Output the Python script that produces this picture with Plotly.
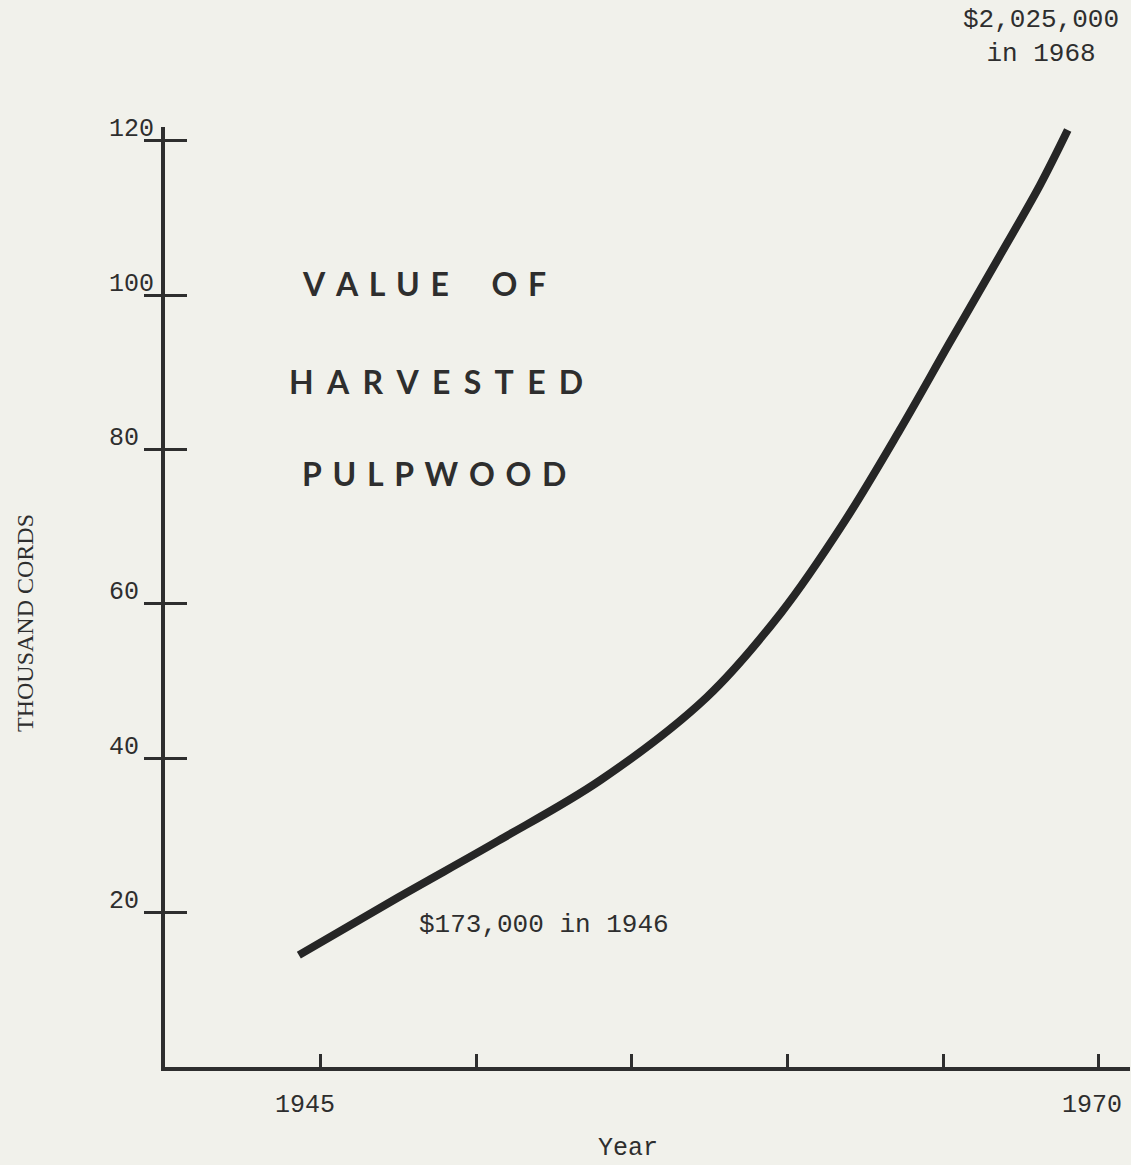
import plotly.graph_objects as go

# ---- data ----
years = [1944.3, 1947.5, 1950.7, 1954.0, 1957.4, 1959.8, 1961.8, 1963.6, 1965.2, 1966.8, 1968.1, 1969.0]
value_thousand_cords = [14.5, 22.0, 29.3, 37.2, 47.9, 58.9, 70.5, 82.5, 93.8, 105.0, 114.2, 121.4]
y_tick_vals = [20, 40, 60, 80, 100, 120]
y_tick_text = ["20", "40", "60", "80", "100", "120"]
x_tick_vals = [1945, 1950, 1955, 1960, 1965, 1970]
x_label_years = [1945, 1970]
x_label_text = ["1945", "1970"]
title_lines = ["VALUE OF", "HARVESTED", "PULPWOOD"]
start_note = "$173,000 in 1946"
end_note = "$2,025,000<br>in 1968"

INK = "#2e2e2e"
BG = "rgb(241,241,235)"
MONO = "Liberation Mono, Courier New, monospace"
SANS = "Lato, Noto Sans, sans-serif"

W, H = 1131, 1165
L, R, T, B = 165, 1, 127, 98
pw, ph = W - L - R, H - T - B

def px_x(p):
    return (p - L) / pw

def px_y(p):
    return (H - B - p) / ph

fig = go.Figure()
fig.add_trace(go.Scatter(
    x=years, y=value_thousand_cords, mode="lines",
    line=dict(color="#262626", width=8, shape="spline", smoothing=1.0),
    hoverinfo="skip", showlegend=False,
))
# invisible trace on overlay axis so its ticks render
fig.add_trace(go.Scatter(x=[1940], y=[0], yaxis="y2", mode="markers",
                         marker=dict(opacity=0), showlegend=False, hoverinfo="skip"))

annotations = []
for v, t in zip(y_tick_vals, y_tick_text):
    annotations.append(dict(x=px_x(107), xref="paper", y=v, yref="y", text=t,
                            xanchor="left", yanchor="middle", yshift=11, showarrow=False,
                            font=dict(family=MONO, size=25, color=INK)))
for v, t, dx in zip(x_label_years, x_label_text, [-16, -7]):
    annotations.append(dict(x=v, xref="x", y=px_y(1105), yref="paper", text=t,
                            xanchor="center", yanchor="middle", xshift=dx, showarrow=False,
                            font=dict(family=MONO, size=25, color=INK)))

def spaced(s, sp):
    words = s.split(" ")
    return (sp * 4).join(sp.join(list(w)) for w in words)

for line, (lx, ly), sp in zip(title_lines, [(300, 283), (287, 381), (300, 473)],
                              ["\u2004", "\u2005\u2006", "\u2004"]):
    annotations.append(dict(x=px_x(lx), xref="paper", y=px_y(ly), yref="paper",
                            text="<b>" + spaced(line, sp) + "</b>", xanchor="left", yanchor="middle",
                            showarrow=False, font=dict(family=SANS, size=32, color=INK)))

annotations.append(dict(x=px_x(417), xref="paper", y=px_y(925), yref="paper", text=start_note,
                        xanchor="left", yanchor="middle", showarrow=False,
                        font=dict(family=MONO, size=26, color=INK)))
annotations.append(dict(x=px_x(1041), xref="paper", y=px_y(37), yref="paper", text=end_note,
                        xanchor="center", yanchor="middle", align="center", showarrow=False,
                        font=dict(family=MONO, size=26, color=INK)))
annotations.append(dict(x=px_x(628), xref="paper", y=px_y(1148), yref="paper", text="Year",
                        xanchor="center", yanchor="middle", showarrow=False,
                        font=dict(family=MONO, size=25, color=INK)))
annotations.append(dict(x=px_x(25), xref="paper", y=px_y(623), yref="paper", text="THOUSAND CORDS",
                        xanchor="center", yanchor="middle", textangle=-90, showarrow=False,
                        font=dict(family="Liberation Serif, serif", size=24, color=INK)))

fig.update_layout(
    width=W, height=H,
    margin=dict(l=L, r=R, t=T, b=B),
    paper_bgcolor=BG, plot_bgcolor=BG,
    showlegend=False,
    xaxis=dict(range=[1940, 1971], showgrid=False, zeroline=False, showline=True,
               linecolor=INK, linewidth=4, ticks="inside", ticklen=13, tickwidth=3,
               tickcolor=INK, tickvals=x_tick_vals, showticklabels=False),
    yaxis=dict(range=[0, 121.8], showgrid=False, zeroline=False, showline=True,
               linecolor=INK, linewidth=4, ticks="outside", ticklen=17, tickwidth=3,
               tickcolor=INK, tickvals=y_tick_vals, showticklabels=False),
    yaxis2=dict(range=[0, 121.8], overlaying="y", side="left", showgrid=False,
                zeroline=False, showline=False, ticks="inside", ticklen=22, tickwidth=3,
                tickcolor=INK, tickvals=y_tick_vals, showticklabels=False),
    annotations=annotations,
)

fig.write_html(
    "out.html",
    config={"displayModeBar": False},
    post_script="document.body.style.margin='0px';document.body.style.padding='0px';"
                "document.body.style.overflow='hidden';"
                "document.body.style.background='rgb(241,241,235)';",
)
